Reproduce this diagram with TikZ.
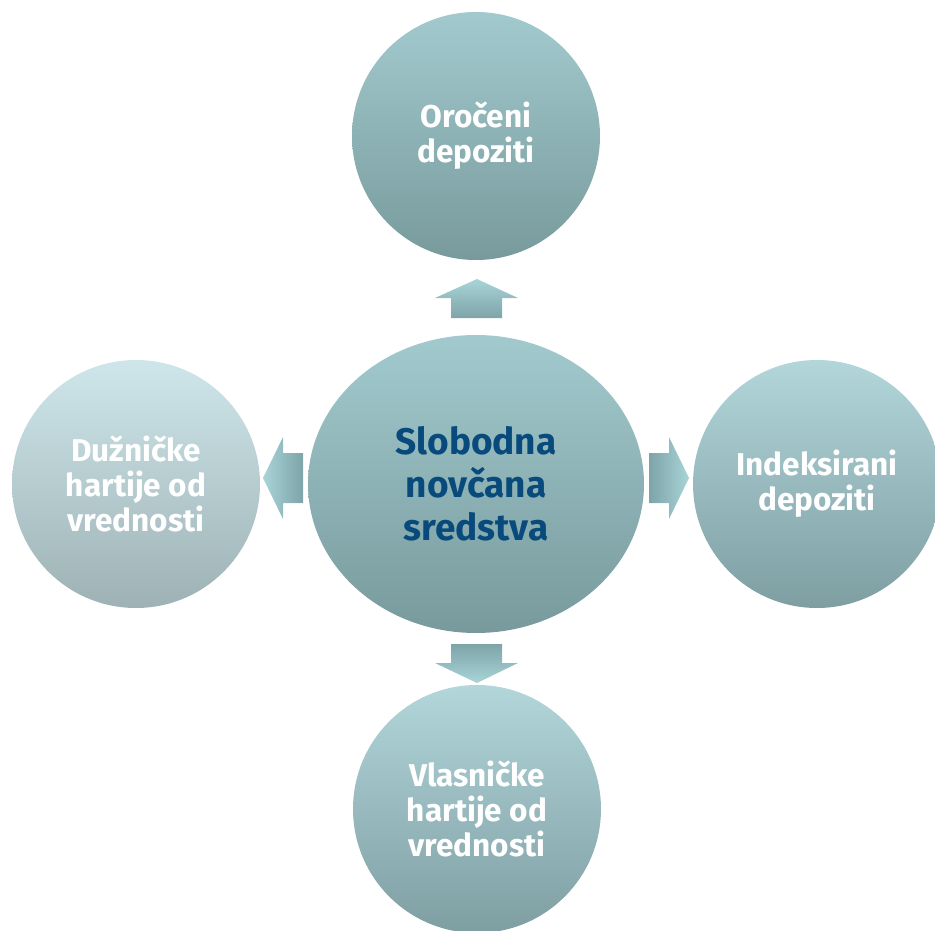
\documentclass[tikz,border=0pt]{standalone}
\usepackage{fontspec}
\setmainfont{Fira Sans}
\usetikzlibrary{shapes.geometric}
\definecolor{ctxt}{RGB}{8,74,124}
\definecolor{midtop}{RGB}{162,202,206}
\definecolor{midbot}{RGB}{120,154,156}
\definecolor{lefttop}{RGB}{206,230,234}
\definecolor{leftbot}{RGB}{158,178,181}
\definecolor{rtop}{RGB}{178,214,218}
\definecolor{rbot}{RGB}{126,158,162}
\definecolor{arlight}{RGB}{168,212,216}
\definecolor{ardark}{RGB}{126,164,168}
\begin{document}
\begin{tikzpicture}[x=1pt,y=-1pt,
  bubble/.style={circle, draw=none, minimum size=248pt, inner sep=0pt, align=center,
    text=white, font=\bfseries\fontsize{31.5}{35}\selectfont},
  hub/.style={ellipse, draw=none, minimum width=336pt, minimum height=298pt, inner sep=0pt,
    align=center, text=ctxt, font=\bfseries\fontsize{37}{43}\selectfont,
    top color=midtop, bottom color=midbot},
  blockarrow/.style={draw=none}]
\useasboundingbox (0,0) rectangle (935,931);
% arrows
\path[blockarrow, top color=arlight, bottom color=ardark]
  (451,318) -- (451,298) -- (435,298) -- (477,279) -- (518,298) -- (502,298) -- (502,318) -- cycle;
\path[blockarrow, left color=ardark, right color=arlight]
  (649,453) -- (669,453) -- (669,437) -- (689,478) -- (669,519) -- (669,503) -- (649,503) -- cycle;
\path[blockarrow, left color=arlight, right color=ardark]
  (303,453) -- (283,453) -- (283,437) -- (263,478) -- (283,519) -- (283,503) -- (303,503) -- cycle;
\path[blockarrow, top color=ardark, bottom color=arlight]
  (451,644) -- (502,644) -- (502,663) -- (518,663) -- (477,683) -- (435,663) -- (451,663) -- cycle;
% nodes
\node[hub] (hubnode) at (476,484) {Slobodna\\novčana\\sredstva};
\node[bubble, top color=midtop, bottom color=midbot] (topn) at (476,136) {Oročeni\\depoziti};
\node[bubble, top color=lefttop, bottom color=leftbot] (leftn) at (136,484) {Dužničke\\hartije od\\vrednosti};
\node[bubble, top color=rtop, bottom color=rbot] (rightn) at (817,484) {Indeksirani\\depoziti};
\node[bubble, top color=rtop, bottom color=rbot] (botn) at (477,809) {Vlasničke\\hartije od\\vrednosti};
\end{tikzpicture}
\end{document}
